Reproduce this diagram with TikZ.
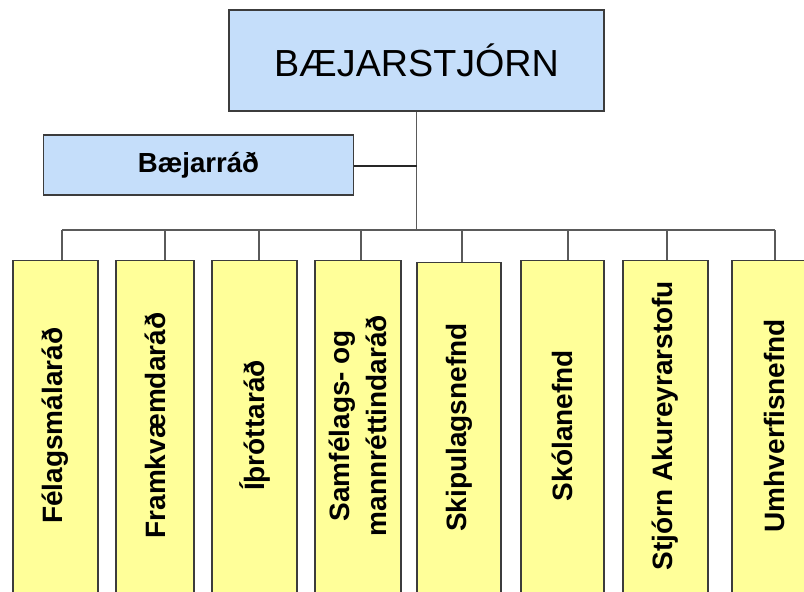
\documentclass[tikz,border=0pt]{standalone}
\usepackage{fontspec}
\setmainfont{Liberation Sans}
\usetikzlibrary{positioning}
\definecolor{topblue}{RGB}{197,222,250}
\definecolor{boardyellow}{RGB}{255,255,153}
\definecolor{edgegray}{RGB}{60,60,60}
\definecolor{linegray}{RGB}{90,90,90}

\begin{document}
\begin{tikzpicture}[x=1pt, y=-1pt,
    blue box/.style={draw=edgegray, line width=1.3pt, fill=topblue, inner sep=0pt},
    yellow box/.style={draw=edgegray, line width=1.3pt, fill=boardyellow, inner sep=0pt,
      minimum height=340pt, anchor=north},
    board text/.style={rotate=90, align=center, font=\bfseries\fontsize{28}{37}\selectfont},
    tie/.style={draw=linegray, line width=1.7pt}]
    \useasboundingbox (0,0) rectangle (804,592);
    \clip (0,0) rectangle (804,592);
    % top of the chart
    \node[blue box, minimum width=375pt, minimum height=101pt] (stjorn) at (416.5,60.5)
      {\fontsize{37.7}{40}\selectfont BÆJARSTJÓRN};
    \node[blue box, minimum width=310pt, minimum height=60pt] (rad) at (198.5,165)
      {\bfseries\fontsize{27.6}{30}\selectfont Bæjarráð};
    % the boards: number / centre / width / top / drop / text
    \foreach \n/\c/\w/\t/\d/\txt in {1/55.5/85/260/62/Félagsmálaráð,
        2/155/78/260/165/Framkvæmdaráð,
        3/254.5/85/260/259/Íþróttaráð,
        4/358/86/260/361/{Samfélags- og\\mannréttindaráð},
        5/459/84/262/462/Skipulagsnefnd,
        6/562.5/83/260/568/Skólanefnd,
        7/665.5/85/260/667/Stjórn Akureyrarstofu,
        8/774/84/260/775/Umhverfisnefnd} {
      \node[yellow box, minimum width=\w pt] (b\n) at (\c,\t) {};
      \node[board text] (t\n) at ([yshift=5pt]b\n.center) {\txt};
      \coordinate (d\n) at (\d,230);
      \draw[tie] (d\n) -- (d\n |- b\n.north);
    }
    \draw[tie] (d1) -- (d8);
    \draw[tie] (stjorn.south) -- (stjorn.south |- d1);
    \draw[tie, draw=black!85, line width=1.3pt] ([yshift=-1pt]rad.east) -- ([yshift=-1pt]rad.east -| stjorn.south);
\end{tikzpicture}
\end{document}
